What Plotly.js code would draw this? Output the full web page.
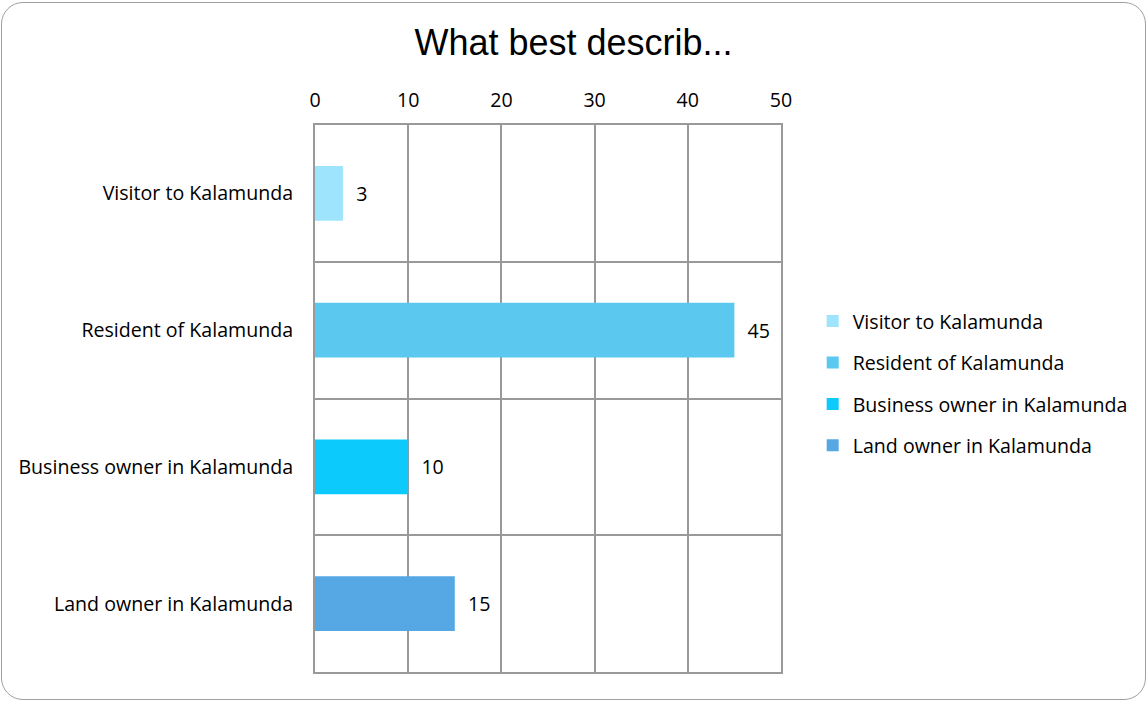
<!DOCTYPE html>
<html>
<head>
<meta charset="utf-8">
<script src="https://cdn.plot.ly/plotly-3.0.1.min.js"></script>
<style>
html,body{margin:0;padding:0;background:#fff;}
#wrap{position:relative;width:1147px;height:702px;}
#chart{width:1147px;height:702px;}
#frame{position:absolute;left:1px;top:2px;width:1143px;height:696px;border:1px solid #a0a0a0;border-radius:22px;pointer-events:none;}
</style>
</head>
<body>
<div id="wrap"><div id="chart"></div><div id="frame"></div></div>
<script>
const categories = ["Visitor to Kalamunda", "Resident of Kalamunda", "Business owner in Kalamunda", "Land owner in Kalamunda"];
const values = [3, 45, 10, 15];
const colors = ["#9ee4fc", "#5bc8ef", "#0ccafc", "#55a8e4"];
const xTicks = [0, 10, 20, 30, 40, 50];

const FONT = "Open Sans, Noto Sans, sans-serif";
const FS = 19.6;

const traces = categories.map((c, i) => ({
  type: "bar",
  orientation: "h",
  name: c,
  y: [c],
  x: [values[i]],
  marker: {color: colors[i]},
  texttemplate: "  %{x}",
  textposition: "outside",
  textfont: {family: FONT, size: FS, color: "#000"},
  cliponaxis: false,
  legendgroup: "g" + i,
  hoverinfo: "x+y"
}));

const layout = {
  width: 1147, height: 702,
  margin: {l: 315, r: 366, t: 125, b: 30},
  paper_bgcolor: "rgba(0,0,0,0)",
  plot_bgcolor: "#fff",
  title: {text: "What best describ...", font: {family: "Liberation Sans, Arial, sans-serif", size: 36, color: "#000"}, x: 0.5, xref: "container", xanchor: "center", y: 0.94, yref: "container", yanchor: "middle"},
  barmode: "overlay",
  bargap: 0.6,
  xaxis: {
    side: "top", range: [0, 50], tickvals: xTicks, ticktext: xTicks.map(String),
    showgrid: true, gridcolor: "#999", gridwidth: 2,
    showline: true, linecolor: "#999", linewidth: 2, mirror: true,
    zeroline: false, ticks: "", ticklabelstandoff: 8,
    tickfont: {family: FONT, size: FS, color: "#000"}, fixedrange: true
  },
  yaxis: {
    type: "category", categoryorder: "array", categoryarray: categories,
    autorange: "reversed", tickson: "boundaries",
    showgrid: true, gridcolor: "#999", gridwidth: 2,
    showline: true, linecolor: "#999", linewidth: 2, mirror: true,
    ticks: "", ticklabelstandoff: 16,
    tickfont: {family: FONT, size: FS, color: "#000"}, fixedrange: true
  },
  showlegend: true,
  legend: {
    x: 1.068, xanchor: "left", y: 0.528, yanchor: "middle",
    traceorder: "grouped", tracegroupgap: 13,
    font: {family: FONT, size: FS, color: "#000"},
    itemwidth: 30, bgcolor: "rgba(0,0,0,0)"
  }
};

Plotly.newPlot("chart", traces, layout, {displayModeBar: false, responsive: false});
</script>
</body>
</html>
